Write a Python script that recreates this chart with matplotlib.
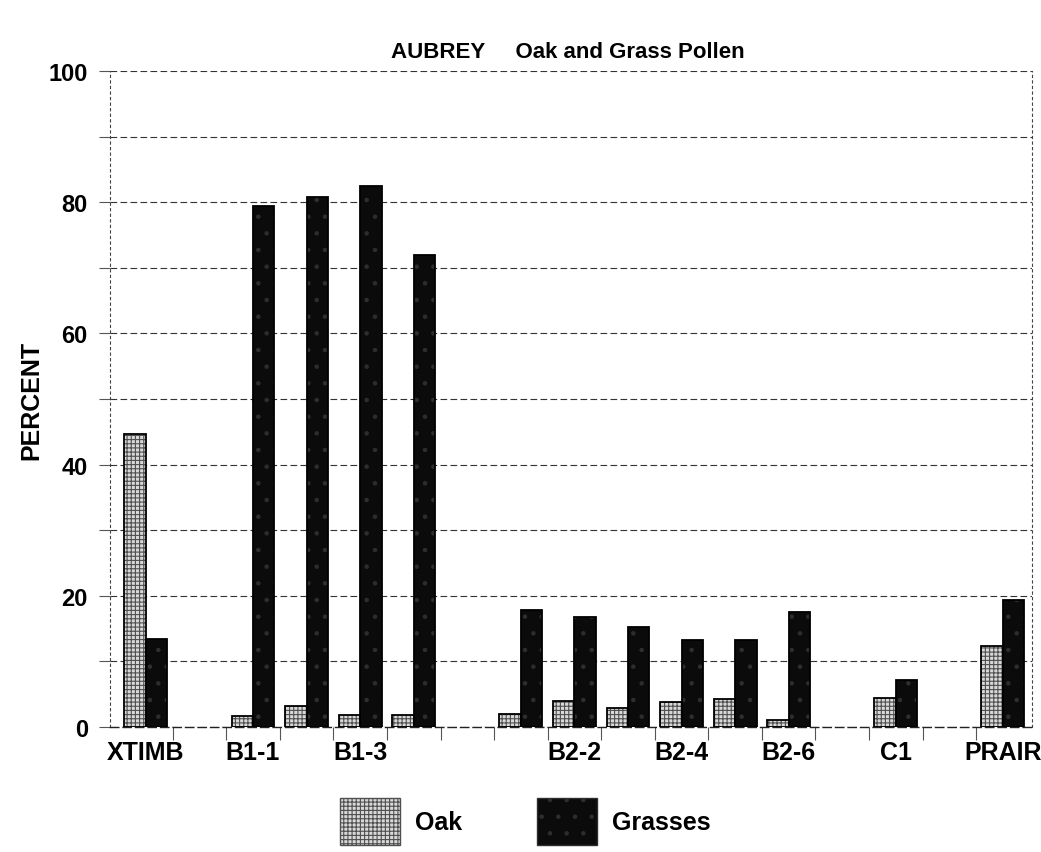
import matplotlib.pyplot as plt
from matplotlib.patches import Patch
import numpy as np

plt.rcParams["font.family"] = ["Liberation Sans", "DejaVu Sans"]
plt.rcParams["font.weight"] = "bold"
plt.rcParams["hatch.linewidth"] = 0.8

# slots along the x axis (blank slots are empty gaps in the original)
samples = ["XTIMB", "", "B1-1", "B1-2", "B1-3", "B1-4", "",
           "B2-1", "B2-2", "B2-3", "B2-4", "B2-5", "B2-6", "", "C1", "", "PRAIR"]
oak = [44.7, np.nan, 1.7, 3.2, 1.9, 1.8, np.nan,
       2.0, 4.0, 2.9, 3.8, 4.2, 1.1, np.nan, 4.4, np.nan, 12.4]
grasses = [13.4, np.nan, 79.5, 80.8, 82.5, 72.0, np.nan,
           17.9, 16.8, 15.3, 13.3, 13.2, 17.6, np.nan, 7.2, np.nan, 19.4]
# only every other slot carries a visible label
shown = ["XTIMB", "", "B1-1", "", "B1-3", "", "",
         "", "B2-2", "", "B2-4", "", "B2-6", "", "C1", "", "PRAIR"]

OAK_FACE, OAK_HATCH = "#d8d8d8", "#505050"
GRASS_FACE, GRASS_HATCH = "#0b0b0b", "#2e2e2e"

fig = plt.figure(figsize=(10.41, 8.53), dpi=100, facecolor="white")
ax = fig.add_axes([0.1057, 0.1465, 0.886, 0.769])

x = np.arange(len(samples))
w = 0.4

# fill + hatch, then a crisp black outline on top
ax.bar(x - w / 2, oak, w, color=OAK_FACE, edgecolor=OAK_HATCH,
       hatch="++++", linewidth=0, zorder=3)
ax.bar(x - w / 2, oak, w, fill=False, edgecolor="black", linewidth=1.3, zorder=4)
ax.bar(x + w / 2, grasses, w, color=GRASS_FACE, edgecolor=GRASS_HATCH,
       hatch=".", linewidth=0, zorder=3)
ax.bar(x + w / 2, grasses, w, fill=False, edgecolor="black", linewidth=1.3, zorder=4)

ax.set_xlim(-0.67, len(samples) - 0.45)
ax.set_ylim(0, 100)
ax.set_yticks(np.arange(0, 101, 20))
ax.set_yticks(np.arange(10, 100, 20), minor=True)
ax.grid(True, axis="y", which="both", color="#333333", linestyle=(0, (6, 3)),
        linewidth=0.8, zorder=1)

ax.set_xticks(x)
ax.set_xticklabels(shown, fontsize=18)
ax.set_xticks(x[:-1] + 0.5, minor=True)
ax.tick_params(axis="x", which="major", length=0, pad=9)
ax.tick_params(axis="x", which="minor", length=9, width=0.8, color="#555555",
               direction="out")
ax.tick_params(axis="y", which="major", labelsize=17, length=8, width=0.8,
               color="#555555", pad=8)
ax.tick_params(axis="y", which="minor", length=8, width=0.8, color="#555555")

for side in ["left", "right"]:
    ax.spines[side].set_linestyle((0, (2, 3)))
    ax.spines[side].set_linewidth(0.8)
    ax.spines[side].set_color("#444444")
ax.spines["top"].set_visible(False)
ax.spines["bottom"].set_linestyle((0, (6, 3)))
ax.spines["bottom"].set_linewidth(1.0)
ax.spines["bottom"].set_color("#222222")

ax.set_ylabel("PERCENT", fontsize=18, fontweight="bold", labelpad=4)
fig.text(0.545, 0.932, "AUBREY     Oak and Grass Pollen", ha="center",
         fontsize=16, fontweight="bold")

handles = [
    Patch(facecolor=OAK_FACE, edgecolor=OAK_HATCH, hatch="++++", label="Oak"),
    Patch(facecolor=GRASS_FACE, edgecolor=GRASS_HATCH, hatch=".", label="Grasses"),
]
fig.legend(handles=handles, loc="lower center", bbox_to_anchor=(0.505, -0.018),
           ncol=2, frameon=False, fontsize=18, handlelength=2.4,
           handleheight=2.5, columnspacing=3.0, handletextpad=0.6)

fig.savefig("out.png", dpi=100, facecolor="white")
